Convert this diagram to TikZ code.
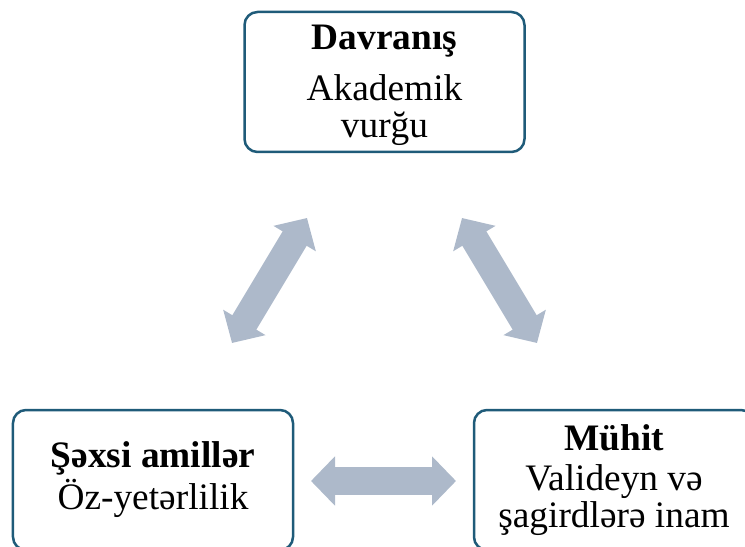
\documentclass[tikz,border=0pt]{standalone}
\usepackage{fontspec}
\setmainfont{Liberation Serif}
\usetikzlibrary{arrows.meta}
\definecolor{boxblue}{HTML}{1F5B79}
\definecolor{arrowgray}{HTML}{ADB9CA}
\tikzset{
  factorbox/.style={draw=boxblue, line width=2.5bp, rounded corners=13bp,
    minimum width=280bp, minimum height=140bp, align=center, inner sep=0pt,
    font=\fontsize{37.5}{37}\selectfont},
  biarrow/.style={draw=arrowgray, line width=28bp,
    {Triangle[width=48bp,length=24bp]}-{Triangle[width=48bp,length=24bp]}}
}
\begin{document}
\begin{tikzpicture}[x=1bp,y=-1bp]
        \useasboundingbox (0,0) rectangle (745,547);
        \clip (0,0) rectangle (745,547);
        \node[factorbox] (davranis) at (384.5,82) {\rule{0pt}{31bp}\textbf{Davranış}\\[15bp] Akademik\\ vurğu};
        \node[factorbox] (sexsi) at (153,480) {\textbf{Şəxsi amillər}\\[3bp] Öz-yetərlilik};
        \node[factorbox] (muhit) at (614,480) {\textbf{Mühit}\\[4bp] Valideyn və\\ şagirdlərə inam};
        % arrow ends
        \coordinate (sexsi-up) at (232,343);
        \coordinate (davranis-left) at (307,218);
        \coordinate (davranis-right) at (462,218);
        \coordinate (muhit-up) at (537,343);
        \coordinate (sexsi-right) at (311,481);
        \coordinate (muhit-left) at (456,481);
        \draw[biarrow] (sexsi-up) -- (davranis-left);
        \draw[biarrow] (davranis-right) -- (muhit-up);
        \draw[biarrow] (sexsi-right) -- (muhit-left);
      \end{tikzpicture}
\end{document}
